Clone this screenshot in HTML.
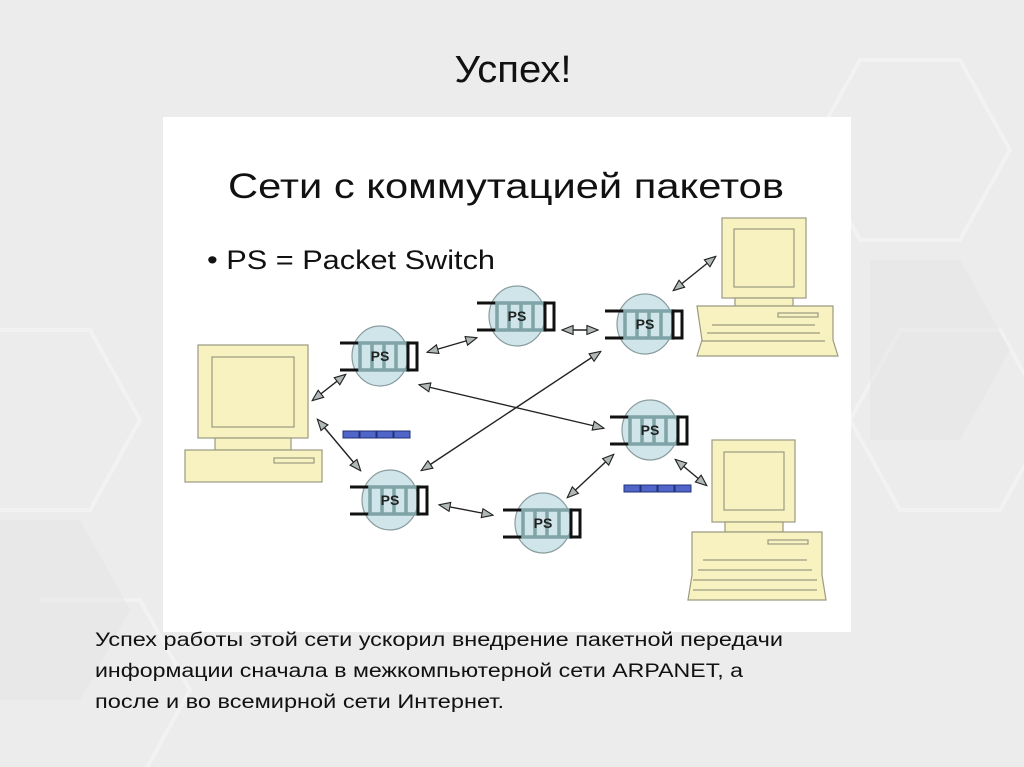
<!DOCTYPE html>
<html><head><meta charset="utf-8"><style>
html,body{margin:0;padding:0;width:1024px;height:767px;overflow:hidden;background:#ececec}
svg{display:block}
</style></head><body>
<svg width="1024" height="767" viewBox="0 0 1024 767" xmlns="http://www.w3.org/2000/svg">
<defs>
<marker id="a" viewBox="0 0 10 10" refX="9" refY="5" markerWidth="9" markerHeight="8" orient="auto-start-reverse"><path d="M0,1 L10,5 L0,9 Z" fill="#b0b8b8" stroke="#222" stroke-width="1"/></marker>
<g id="ps">
<ellipse cx="0" cy="0" rx="28" ry="30" fill="#cfe5ea" stroke="#8a9c9e" stroke-width="1.2"/>
<line x1="-40" y1="-13" x2="-20" y2="-13" stroke="#111" stroke-width="3"/>
<line x1="-40" y1="14" x2="-20" y2="14" stroke="#111" stroke-width="3"/>
<rect x="-20" y="-13" width="48" height="27" fill="none" stroke="#7fa3a6" stroke-width="3.5"/>
<line x1="-8" y1="-13" x2="-8" y2="14" stroke="#7fa3a6" stroke-width="3.5"/>
<line x1="4" y1="-13" x2="4" y2="14" stroke="#7fa3a6" stroke-width="3.5"/>
<line x1="16" y1="-13" x2="16" y2="14" stroke="#7fa3a6" stroke-width="3.5"/>
<rect x="28" y="-13" width="9" height="27" fill="#fff" stroke="#111" stroke-width="3"/>
<text x="0" y="5" font-family="Liberation Sans, sans-serif" font-weight="bold" font-size="14" text-anchor="middle" fill="#222">PS</text>
</g>
</defs>
<g fill="none" stroke="#f4f4f4" stroke-width="4" opacity="0.8">
<path d="M0,330 L90,330 L140,420 L90,510 L0,510"/>
<path d="M860,60 L960,60 L1010,150 L960,240 L860,240 L810,150 Z"/>
<path d="M900,330 L1000,330 L1050,420 L1000,510 L900,510 L850,420 Z"/>
<path d="M40,600 L140,600 L190,690 L140,780"/>
</g>
<g fill="#e4e4e4" opacity="0.5">
<path d="M870,260 L960,260 L1010,350 L960,440 L870,440 Z"/>
<path d="M0,520 L80,520 L130,610 L80,700 L0,700 Z"/>
</g>
<text x="513" y="82" font-family="Liberation Sans Narrow, Liberation Sans, sans-serif" font-size="38" text-anchor="middle" fill="#111" textLength="117" lengthAdjust="spacingAndGlyphs">Успех!</text>
<rect x="163" y="117" width="688" height="515" fill="#fff"/>
<text x="506" y="198" font-family="Liberation Sans, sans-serif" font-size="35" text-anchor="middle" fill="#111" textLength="556" lengthAdjust="spacingAndGlyphs">Сети с коммутацией пакетов</text>
<text x="207" y="269" font-family="Liberation Sans, sans-serif" font-size="27" fill="#111" textLength="288" lengthAdjust="spacingAndGlyphs">• PS = Packet Switch</text>
<g fill="#f8f2c0" stroke="#9a9a80" stroke-width="1.2">
<rect x="198" y="345" width="110" height="93"/><rect x="212" y="357" width="82" height="70"/>
<rect x="215" y="438" width="76" height="12"/><rect x="185" y="450" width="137" height="32"/>
<rect x="274" y="458" width="40" height="5"/>
<rect x="722" y="218" width="84" height="80"/><rect x="734" y="229" width="60" height="58"/>
<rect x="735" y="298" width="58" height="8"/><path d="M697,306 L833,306 L833,340 L838,356 L697,356 L702,340 Z"/>
<rect x="778" y="313" width="40" height="4"/>
<path d="M712,325 L815,325 M707,333 L820,333 M702,341 L825,341" />
<rect x="712" y="440" width="83" height="82"/><rect x="724" y="452" width="60" height="58"/>
<rect x="725" y="522" width="58" height="10"/><path d="M692,532 L822,532 L822,575 L826,600 L688,600 L692,575 Z"/>
<rect x="768" y="540" width="40" height="4"/>
<path d="M703,560 L807,560 M698,570 L812,570 M693,580 L817,580 M693,590 L817,590" />
</g>
<g fill="#4f66c8" stroke="#22307a" stroke-width="1">
<rect x="343" y="431" width="16" height="7"/><rect x="360" y="431" width="16" height="7"/><rect x="377" y="431" width="16" height="7"/><rect x="394" y="431" width="16" height="7"/>
<rect x="624" y="485" width="16" height="7"/><rect x="641" y="485" width="16" height="7"/><rect x="658" y="485" width="16" height="7"/><rect x="675" y="485" width="16" height="7"/>
</g>
<g stroke="#222" stroke-width="1.4" marker-start="url(#a)" marker-end="url(#a)">
<line x1="313" y1="400" x2="345" y2="375"/>
<line x1="318" y1="420" x2="360" y2="470"/>
<line x1="428" y1="352" x2="476" y2="338"/>
<line x1="563" y1="330" x2="597" y2="330"/>
<line x1="420" y1="385" x2="603" y2="428"/>
<line x1="422" y1="470" x2="600" y2="352"/>
<line x1="440" y1="505" x2="492" y2="515"/>
<line x1="568" y1="497" x2="613" y2="455"/>
<line x1="674" y1="290" x2="715" y2="257"/>
<line x1="676" y1="460" x2="706" y2="485"/>
</g>
<use href="#ps" x="380" y="356"/>
<use href="#ps" x="517" y="316"/>
<use href="#ps" x="645" y="324"/>
<use href="#ps" x="650" y="430"/>
<use href="#ps" x="390" y="500"/>
<use href="#ps" x="543" y="523"/>
<g font-family="Liberation Sans Narrow, Liberation Sans, sans-serif" font-size="19" fill="#111">
<text x="95" y="646" textLength="688" lengthAdjust="spacingAndGlyphs">Успех работы этой сети ускорил внедрение пакетной передачи</text>
<text x="95" y="677" textLength="648" lengthAdjust="spacingAndGlyphs">информации сначала в межкомпьютерной сети ARPANET, а</text>
<text x="95" y="708" textLength="409" lengthAdjust="spacingAndGlyphs">после и во всемирной сети Интернет.</text>
</g>
</svg>
</body></html>
